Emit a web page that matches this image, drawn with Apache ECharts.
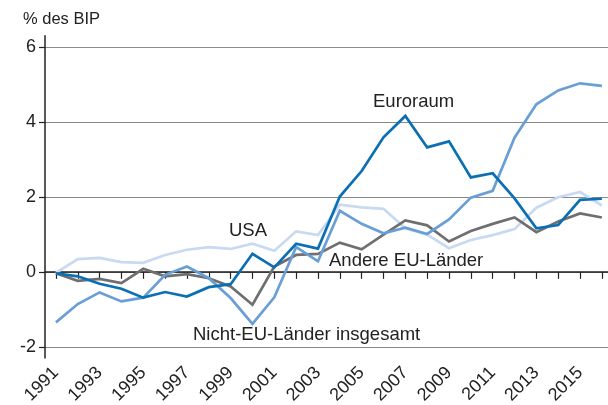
<!DOCTYPE html>
<html>
<head>
<meta charset="utf-8">
<script src="https://cdn.jsdelivr.net/npm/echarts@6/dist/echarts.min.js"></script>
<style>
  html, body { margin: 0; padding: 0; background: #fff; }
  #chart { width: 608px; height: 405px; }
</style>
</head>
<body>
<div id="chart"></div>
<script>
// Leistungsbilanzsaldo des Euroraums und anderer Regionen, in % des BIP
const years = [1991, 1992, 1993, 1994, 1995, 1996, 1997, 1998, 1999, 2000, 2001, 2002, 2003,
               2004, 2005, 2006, 2007, 2008, 2009, 2010, 2011, 2012, 2013, 2014, 2015, 2016];
const yearLabels = [1991, 1993, 1995, 1997, 1999, 2001, 2003, 2005, 2007, 2009, 2011, 2013, 2015];
const yTicks = [-2, 0, 2, 4, 6];

const euroraum = [-0.04, -0.12, -0.32, -0.45, -0.69, -0.54, -0.66, -0.41, -0.33, 0.48, 0.12, 0.75, 0.62,
                  2.01, 2.69, 3.59, 4.16, 3.32, 3.48, 2.52, 2.63, 1.96, 1.16, 1.25, 1.92, 1.95];
const nichtEU = [-1.35, -0.86, -0.55, -0.79, -0.69, -0.08, 0.14, -0.17, -0.70, -1.39, -0.68, 0.66, 0.28,
                 1.63, 1.28, 1.03, 1.18, 1.01, 1.40, 1.98, 2.16, 3.58, 4.47, 4.84, 5.03, 4.96];
const usa = [-0.03, 0.34, 0.37, 0.26, 0.24, 0.45, 0.59, 0.66, 0.61, 0.75, 0.56, 1.08, 0.98,
             1.79, 1.72, 1.68, 1.16, 0.99, 0.63, 0.85, 0.98, 1.14, 1.71, 1.99, 2.13, 1.77];
const andereEU = [-0.04, -0.24, -0.19, -0.30, 0.08, -0.12, -0.06, -0.17, -0.39, -0.88, 0.14, 0.45, 0.48,
                  0.78, 0.60, 0.99, 1.37, 1.24, 0.81, 1.09, 1.28, 1.45, 1.06, 1.34, 1.56, 1.45];

const seriesNames = ['USA', 'Andere EU-Länder', 'Nicht-EU-Länder insgesamt', 'Euroraum'];

const FONT = '"Liberation Sans", Arial, Helvetica, sans-serif';
const TEXT = '#222';

function pairs(vals) { return years.map((y, i) => [y, vals[i]]); }

function line(name, vals, color) {
  return {
    name: name,
    type: 'line',
    data: pairs(vals),
    symbol: 'none',
    lineStyle: { color: color, width: 2.7, join: 'miter' },
    silent: true,
    animation: false
  };
}

const chart = echarts.init(document.getElementById('chart'), null, { renderer: 'canvas' });

chart.setOption({
  animation: false,
  backgroundColor: '#fff',
  textStyle: { fontFamily: FONT },
  grid: { left: 45, right: 0, top: 35.75, bottom: 47, containLabel: false, outerBoundsMode: 'none' },
  xAxis: {
    type: 'value',
    min: 1990.5,
    max: 2016.28,
    axisLine: { show: true, lineStyle: { color: '#222', width: 1.5 } },
    axisTick: { show: true, customValues: years, length: 7, inside: false, lineStyle: { color: '#222', width: 1.2 } },
    axisLabel: {
      customValues: yearLabels,
      rotate: 45,
      margin: 12,
      fontSize: 18,
      color: TEXT,
      fontFamily: FONT,
      formatter: v => String(v)
    },
    splitLine: { show: false }
  },
  yAxis: {
    type: 'value',
    min: -2.3,
    max: 6.3,
    axisLine: { show: true, onZero: false, lineStyle: { color: '#222', width: 1.5 } },
    axisTick: { show: true, customValues: yTicks, length: 6, lineStyle: { color: '#222', width: 1.2 } },
    axisLabel: { customValues: yTicks, margin: 9, fontSize: 18, color: TEXT, fontFamily: FONT },
    splitLine: { show: true, lineStyle: { color: '#8a8a8a', width: 1.2 } }
  },
  series: [
    line(seriesNames[0], usa, '#c7daf2'),
    line(seriesNames[1], andereEU, '#6f6f6f'),
    line(seriesNames[2], nichtEU, '#6a9fd6'),
    line(seriesNames[3], euroraum, '#0b70b3')
  ],
  graphic: [
    { type: 'text', left: 23, top: 11, style: { text: '% des BIP', font: '16.5px ' + FONT, fill: TEXT } },
    { type: 'text', left: 373, top: 92, style: { text: 'Euroraum', font: '18.5px ' + FONT, fill: TEXT } },
    { type: 'text', left: 229, top: 221, style: { text: 'USA', font: '18.5px ' + FONT, fill: TEXT } },
    { type: 'text', left: 329, top: 251, style: { text: 'Andere EU-Länder', font: '18.5px ' + FONT, fill: TEXT } },
    { type: 'text', left: 193, top: 325, style: { text: 'Nicht-EU-Länder insgesamt', font: '18.5px ' + FONT, fill: TEXT } }
  ]
});
</script>
</body>
</html>
